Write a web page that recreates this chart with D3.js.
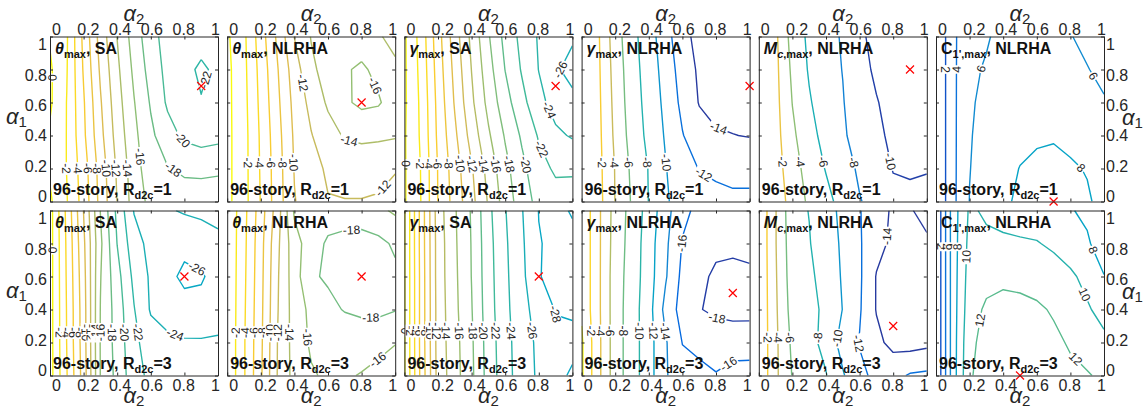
<!DOCTYPE html>
<html>
<head>
<meta charset="utf-8">
<script src="https://cdn.jsdelivr.net/npm/d3@7"></script>
<style>
  body { margin: 0; background: #fff; }
  svg { display: block; }
</style>
</head>
<body>
<svg id="chart" width="1146" height="408"></svg>
<script>
// grid of the parametric study: alpha2 along x, alpha1 along y
const alpha2Grid = [0, 0.1, 0.2, 0.3, 0.4, 0.5, 0.6, 0.7, 0.8, 0.9, 1];
const alpha1Grid = [0, 0.2, 0.4, 0.6, 0.8, 1];
const tickValues = [0, 0.2, 0.4, 0.6, 0.8, 1];

// response reduction (%) — rows are alpha1 = 0 ... 1, columns alpha2 = 0 ... 1
const thetaSA_R1 = [
  [0.3, -1.9, -4.8, -8.6, -12.05, -14.8, -16.6, -17.1, -17.2, -17.1, -17.0],
  [-0.3, -2.05, -5.05, -8.8, -12.3, -15.1, -17.2, -17.9, -18.3, -18.4, -18.3],
  [-0.3, -2.05, -5.6, -9.4, -12.8, -15.5, -17.6, -19.2, -20.4, -20.9, -20.6],
  [0.3, -2.05, -5.8, -9.8, -13.2, -15.9, -18.2, -20.3, -21.4, -21.9, -21.4],
  [0.3, -1.9, -6.2, -10.3, -13.6, -16.4, -18.8, -20.6, -21.5, -22.3, -21.6],
  [-0.2, -1.8, -6.5, -10.8, -14.05, -16.9, -19.3, -20.8, -21.2, -21.3, -21.2]
];
const thetaNL_R1 = [
  [0.5, -1.3, -4.1, -7.05, -9.9, -11.05, -11.9, -11.95, -11.95, -11.9, -11.75],
  [0.5, -1.3, -4.2, -7.1, -10.1, -11.3, -12.3, -12.5, -12.5, -12.3, -12.05],
  [0.5, -1.3, -4.3, -7.3, -10.3, -11.9, -13.2, -14.2, -14.5, -14.4, -14.2],
  [0.5, -1.4, -4.5, -7.6, -10.6, -12.6, -14.3, -15.7, -16.4, -16.2, -15.05],
  [0.5, -1.5, -4.7, -7.9, -11.05, -13.6, -14.8, -15.8, -16.3, -15.5, -14.6],
  [0.3, -1.6, -5.05, -8.4, -12.05, -14.1, -14.8, -15.2, -15.05, -14.3, -13.05]
];
const gammaSA_R1 = [
  [0.2, -2.05, -6.05, -8.8, -11.4, -14.2, -16.9, -19.05, -20.6, -21.2, -21.4],
  [0.2, -2.1, -6.1, -9.05, -11.8, -14.7, -17.4, -19.5, -21.3, -22.3, -22.2],
  [0.2, -2.3, -6.4, -9.6, -12.8, -15.7, -18.2, -20.3, -22.2, -23.6, -24.2],
  [0.3, -2.4, -6.6, -10.2, -13.6, -16.6, -19.2, -21.4, -23.4, -24.8, -25.6],
  [0.3, -2.6, -6.9, -10.6, -14.05, -17.2, -20.05, -22.2, -24.05, -25.8, -26.5],
  [0.3, -2.8, -7.2, -11.05, -14.5, -17.8, -20.6, -22.6, -24.2, -25.3, -25.8]
];
const gammaNL_R1 = [
  [-0.3, -1.3, -4.05, -6.2, -8.05, -9.7, -11.05, -11.5, -11.7, -11.8, -11.8],
  [-0.3, -1.4, -4.1, -6.4, -8.1, -9.9, -11.4, -12.05, -12.2, -12.3, -12.3],
  [-0.4, -1.5, -4.4, -6.8, -8.5, -10.2, -11.9, -13.2, -13.8, -13.95, -14.1],
  [-0.4, -1.6, -4.6, -7.05, -8.7, -10.5, -12.5, -14.1, -14.6, -14.8, -14.8],
  [-0.4, -1.7, -4.8, -7.2, -8.9, -10.8, -12.9, -14.3, -14.8, -15.05, -15.05],
  [-0.4, -1.8, -5.05, -7.4, -9.1, -11.2, -13.4, -14.6, -15.05, -15.2, -15.05]
];
const McNL_R1 = [
  [-0.2, -1.1, -2.6, -4.4, -5.5, -6.6, -7.9, -8.6, -9.4, -9.6, -9.5],
  [-0.2, -1.2, -3.05, -4.9, -6.1, -7.2, -8.3, -8.9, -10.1, -10.2, -10.1],
  [-0.2, -1.3, -3.6, -5.4, -6.6, -7.8, -8.6, -9.6, -10.4, -10.7, -10.8],
  [-0.2, -1.4, -4.05, -5.8, -7.1, -7.9, -9.1, -9.9, -10.6, -10.9, -10.9],
  [-0.2, -1.5, -4.4, -6.2, -7.3, -8.05, -9.4, -10.3, -10.9, -11.1, -11.05],
  [-0.2, -1.6, -4.8, -6.4, -7.3, -8.2, -9.7, -10.5, -10.9, -11.1, -11.05]
];
const C1NL_R1 = [
  [0.0, 3.5, 6.05, 7.05, 7.7, 8.3, 8.6, 8.6, 8.4, 8.2, 7.5],
  [0.0, 3.5, 5.95, 6.8, 7.4, 8.05, 8.3, 8.3, 8.2, 7.9, 7.3],
  [0.0, 3.5, 5.9, 6.5, 7.05, 7.5, 7.8, 7.9, 7.6, 7.1, 6.6],
  [0.0, 3.5, 5.85, 6.3, 6.7, 7.05, 7.2, 7.1, 6.9, 6.5, 6.1],
  [0.0, 3.5, 5.8, 6.1, 6.5, 6.8, 6.9, 6.7, 6.4, 6.05, 5.7],
  [0.0, 3.5, 5.7, 5.9, 6.3, 6.5, 6.6, 6.4, 6.05, 5.7, 5.4]
];
const thetaSA_R3 = [
  [0.8, -3.9, -8.9, -16.05, -18.6, -21.2, -22.5, -23.2, -23.4, -23.4, -23.3],
  [0.8, -4.05, -9.05, -16.1, -18.8, -21.5, -23.05, -23.7, -23.8, -23.8, -23.7],
  [0.8, -4.1, -9.1, -16.05, -18.9, -21.9, -24.2, -24.6, -25.3, -25.4, -25.05],
  [0.8, -4.2, -9.3, -15.9, -19.3, -22.5, -24.3, -25.5, -26.4, -26.2, -25.3],
  [0.8, -4.3, -9.6, -15.6, -20.05, -23.2, -24.6, -25.2, -25.5, -25.05, -24.4],
  [0.8, -4.5, -10.05, -16.05, -20.5, -24.1, -24.3, -24.2, -23.8, -23.6, -23.5]
];
const thetaNL_R3 = [
  [-0.2, -3.8, -7.7, -12.1, -14.7, -15.8, -16.3, -16.2, -15.9, -15.6, -15.4],
  [-0.2, -3.8, -7.6, -12.05, -14.8, -16.3, -16.8, -16.9, -16.8, -16.4, -16.05],
  [-0.2, -3.7, -7.5, -11.9, -14.9, -16.5, -17.6, -18.1, -18.4, -18.5, -18.1],
  [-0.2, -3.6, -7.4, -11.8, -15.05, -17.8, -18.2, -18.6, -18.8, -18.7, -18.4],
  [-0.2, -3.5, -7.3, -11.6, -15.2, -17.05, -18.3, -18.6, -18.7, -18.5, -17.7],
  [-0.2, -3.4, -7.05, -11.05, -16.3, -16.6, -17.05, -17.1, -17.05, -16.4, -15.7]
];
const gammaSA_R3 = [
  [0.2, -6.6, -12.7, -15.2, -17.6, -20.8, -23.2, -25.05, -26.3, -27.6, -28.2],
  [0.2, -6.7, -12.8, -15.3, -17.7, -20.9, -23.3, -25.1, -26.4, -27.5, -27.6],
  [0.2, -6.7, -12.8, -15.5, -17.9, -21.1, -23.5, -25.3, -26.9, -28.1, -28.2],
  [0.2, -6.7, -12.9, -15.6, -18.05, -21.2, -23.6, -25.5, -27.95, -28.3, -28.3],
  [0.2, -6.8, -12.9, -15.7, -18.1, -21.3, -23.7, -25.7, -27.9, -28.4, -28.3],
  [0.2, -6.8, -13.05, -15.8, -18.2, -21.5, -23.9, -25.9, -28.05, -28.3, -27.9]
];
const gammaNL_R3 = [
  [0.3, -3.5, -7.05, -9.05, -11.2, -13.8, -15.3, -15.7, -15.9, -15.3, -15.1],
  [0.3, -3.5, -7.05, -9.05, -11.2, -13.8, -16.05, -16.3, -16.8, -16.9, -17.05],
  [-0.3, -3.6, -7.05, -9.05, -11.25, -14.6, -16.8, -17.9, -18.4, -18.6, -18.5],
  [-0.3, -3.6, -7.05, -8.9, -11.1, -13.8, -16.5, -17.6, -18.3, -18.5, -18.4],
  [-0.3, -3.6, -6.9, -8.8, -11.05, -13.6, -16.1, -17.05, -17.6, -17.6, -17.4],
  [-0.3, -3.6, -6.8, -8.7, -10.8, -13.2, -15.6, -16.4, -16.9, -17.1, -17.2]
];
const McNL_R3 = [
  [-0.2, -3.6, -6.1, -6.8, -7.9, -9.8, -11.6, -12.4, -12.6, -11.8, -11.6],
  [-0.2, -3.6, -6.4, -7.4, -8.6, -10.8, -12.1, -13.5, -14.6, -14.8, -14.5],
  [-0.2, -3.7, -6.8, -7.3, -8.5, -10.05, -11.8, -14.1, -14.9, -15.05, -14.8],
  [-0.2, -3.8, -7.05, -7.6, -8.8, -10.2, -11.7, -14.1, -14.6, -14.8, -14.6],
  [-0.2, -3.9, -7.2, -7.9, -9.05, -10.3, -11.8, -13.4, -14.4, -14.6, -14.2],
  [-0.2, -3.9, -7.4, -8.05, -9.2, -10.5, -11.9, -13.1, -14.3, -14.1, -13.6]
];
const C1NL_R3 = [
  [0.0, 7.0, 11.8, 12.8, 13.2, 13.2, 13.05, 12.7, 12.4, 12.2, 11.5],
  [0.0, 7.0, 11.6, 12.6, 13.05, 13.05, 12.8, 12.4, 11.8, 10.9, 10.4],
  [0.0, 7.0, 11.2, 12.3, 12.6, 12.5, 12.3, 11.8, 11.05, 10.2, 9.4],
  [0.0, 7.0, 10.9, 11.4, 11.6, 11.5, 11.2, 10.8, 10.3, 9.5, 8.05],
  [0.0, 7.0, 10.6, 10.4, 10.3, 10.2, 10.1, 9.7, 9.1, 8.2, 7.2],
  [0.0, 7.0, 10.3, 9.7, 9.4, 9.2, 9.05, 8.6, 8.1, 7.7, 7.3]
];

// location of the best (alpha2, alpha1) pair in each panel
const optimumPoints = [
  [0.9, 0.7], [0.8, 0.6], [0.9, 0.7], [1.0, 0.7], [0.9, 0.8], [0.7, 0.0],
  [0.8, 0.6], [0.8, 0.6], [0.8, 0.6], [0.9, 0.5], [0.8, 0.3], [0.5, 0.0]
];

const storyLabels = ["96-story, R", "d2c", "=1", "=3"];

// panel set-up: contour levels, colour range and where contour labels sit
const panels = [
  { grid: thetaSA_R1, title: [["θ", "i"], ["max", "s"], [", SA"]], levels: d3.range(0, -23, -2), clim: [-42, 0], rd2c: 1,
    labels: [[0, 0, 0.75], [-2, 0.1, 0.2], [-4, 0.16, 0.2], [-6, 0.21, 0.2], [-8, 0.27, 0.2], [-10, 0.32, 0.2], [-12, 0.38, 0.2], [-14, 0.45, 0.2], [-16, 0.52, 0.27], [-18, 0.73, 0.19], [-20, 0.77, 0.36], [-22, 0.92, 0.74]] },
  { grid: thetaNL_R1, title: [["θ", "i"], ["max", "s"], [", NLRHA"]], levels: d3.range(0, -17, -2), clim: [-43, 0], rd2c: 1,
    labels: [[-2, 0.11, 0.235], [-4, 0.18, 0.235], [-6, 0.25, 0.235], [-8, 0.31, 0.235], [-10, 0.38, 0.235], [-12, 0.4, 0.71], [-14, 0.73, 0.385], [-16, 0.83, 0.68], [-12, 0.87, 0.13]] },
  { grid: gammaSA_R1, title: [["γ", "i"], ["max", "s"], [", SA"]], levels: d3.range(0, -27, -2), clim: [-45, 0], rd2c: 1,
    labels: [[0, 0, 0.23], [-2, 0.095, 0.23], [-4, 0.155, 0.23], [-6, 0.2, 0.23], [-8, 0.25, 0.23], [-10, 0.33, 0.23], [-12, 0.42, 0.23], [-14, 0.49, 0.23], [-16, 0.57, 0.23], [-18, 0.64, 0.23], [-20, 0.75, 0.23], [-22, 0.84, 0.33], [-24, 0.85, 0.55], [-26, 0.92, 0.8]] },
  { grid: gammaNL_R1, title: [["γ", "i"], ["max", "s"], [", NLRHA"]], levels: d3.range(-2, -15, -2), clim: [-14.5, 0], rd2c: 1,
    labels: [[-2, 0.12, 0.235], [-4, 0.19, 0.235], [-6, 0.27, 0.235], [-8, 0.37, 0.235], [-10, 0.49, 0.235], [-12, 0.73, 0.17], [-14, 0.81, 0.43]] },
  { grid: McNL_R1, title: [["M", "i"], ["c", "si"], [",max", "s"], [", NLRHA"]], levels: d3.range(-2, -11, -2), clim: [-10.5, 0], rd2c: 1,
    labels: [[-2, 0.13, 0.24], [-4, 0.24, 0.24], [-6, 0.38, 0.24], [-8, 0.575, 0.24], [-10, 0.77, 0.24]] },
  { grid: C1NL_R1, title: [["C"], ["1',max", "s"], [", NLRHA"]], levels: [2, 4, 6, 8], clim: [0, 22], rd2c: 1,
    labels: [[2, 0.054, 0.8], [4, 0.12, 0.8], [6, 0.28, 0.8], [6, 0.92, 0.75], [8, 0.86, 0.2]] },
  { grid: thetaSA_R3, title: [["θ", "i"], ["max", "s"], [", SA"]], levels: d3.range(0, -27, -2), clim: [-42, 0], rd2c: 3,
    labels: [[0, 0, 0.76], [-2, 0.05, 0.26], [-4, 0.1, 0.26], [-6, 0.14, 0.26], [-8, 0.18, 0.26], [-10, 0.21, 0.26], [-12, 0.24, 0.26], [-14, 0.27, 0.26], [-16, 0.3, 0.26], [-18, 0.37, 0.26], [-20, 0.44, 0.26], [-22, 0.51, 0.26], [-24, 0.73, 0.21], [-26, 0.87, 0.64]] },
  { grid: thetaNL_R3, title: [["θ", "i"], ["max", "s"], [", NLRHA"]], levels: d3.range(-2, -19, -2), clim: [-43, 0], rd2c: 3,
    labels: [[-2, 0.05, 0.26], [-4, 0.11, 0.26], [-6, 0.16, 0.26], [-8, 0.21, 0.26], [-10, 0.25, 0.26], [-12, 0.3, 0.26], [-14, 0.35, 0.26], [-16, 0.46, 0.23], [-18, 0.74, 0.88], [-18, 0.855, 0.32], [-16, 0.885, 0.11]] },
  { grid: gammaSA_R3, title: [["γ", "i"], ["max", "s"], [", SA"]], levels: d3.range(0, -29, -2), clim: [-45, 0], rd2c: 3,
    labels: [[0, 0.005, 0.27], [-2, 0.035, 0.27], [-4, 0.065, 0.27], [-6, 0.095, 0.27], [-8, 0.125, 0.27], [-10, 0.155, 0.27], [-12, 0.19, 0.27], [-14, 0.24, 0.27], [-16, 0.33, 0.27], [-18, 0.41, 0.27], [-20, 0.47, 0.27], [-22, 0.53, 0.27], [-24, 0.63, 0.27], [-26, 0.74, 0.27], [-28, 0.85, 0.36]] },
  { grid: gammaNL_R3, title: [["γ", "i"], ["max", "s"], [", NLRHA"]], levels: d3.range(0, -19, -2), clim: [-18.8, 0], rd2c: 3,
    labels: [[-2, 0.06, 0.27], [-4, 0.11, 0.27], [-6, 0.17, 0.27], [-8, 0.23, 0.27], [-10, 0.35, 0.27], [-12, 0.42, 0.27], [-14, 0.51, 0.27], [-16, 0.61, 0.8], [-18, 0.8, 0.32], [-16, 0.875, 0.07]] },
  { grid: McNL_R3, title: [["M", "i"], ["c", "si"], [",max", "s"], [", NLRHA"]], levels: d3.range(-2, -15, -2), clim: [-14.5, 0], rd2c: 3,
    labels: [[-2, 0.06, 0.23], [-4, 0.12, 0.23], [-6, 0.19, 0.23], [-8, 0.33, 0.23], [-10, 0.44, 0.23], [-12, 0.57, 0.19], [-14, 0.81, 0.84]] },
  { grid: C1NL_R3, title: [["C"], ["1',max", "s"], [", NLRHA"]], levels: [2, 4, 6, 8, 10, 12], clim: [0, 22], rd2c: 3,
    labels: [[2, 0.02, 0.78], [4, 0.04, 0.78], [6, 0.065, 0.78], [8, 0.12, 0.78], [10, 0.2, 0.72], [10, 0.86, 0.48], [12, 0.23, 0.34], [12, 0.86, 0.13], [8, 0.91, 0.75]] }
];

// MATLAB parula
const parula = d3.piecewise(d3.interpolateRgb, ["#352a87", "#0363e1", "#1485d4", "#06a7c6", "#38b99e", "#92bf73", "#d9ba56", "#fcce2e", "#f9fb0e"]);

const font = "'Liberation Sans', Arial, Helvetica, sans-serif";
const ink = "#262626";
const panelW = 168, panelH = 165;
const colLeft = d3.scaleLinear().domain([0, 5]).range([50, 936]);
const rowTop = [36.5, 210.5];

const svg = d3.select("#chart");
const nx = alpha2Grid.length, ny = alpha1Grid.length;
const a2OfIndex = d3.scaleLinear().domain(d3.range(nx)).range(alpha2Grid);
const a1OfIndex = d3.scaleLinear().domain(d3.range(ny)).range(alpha1Grid);

// turn d3's filled contour rings into open iso-lines (drop the parts that run along the frame)
function isolines(contour) {
  const out = [];
  const onEdge = ([u, v]) => u < 0.25 || u > nx - 0.25 || v < 0.25 || v > ny - 0.25;
  contour.coordinates.forEach(poly => poly.forEach(ring0 => {
    const ring = ring0.slice(0, -1);
    const k = ring.findIndex(onEdge);
    if (k < 0) { out.push(ring0); return; }
    const rot = ring.slice(k).concat(ring.slice(0, k), [ring[k]]);
    let cur = [];
    rot.forEach(pt => {
      if (onEdge(pt)) { if (cur.length > 1) out.push(cur); cur = []; }
      else cur.push(pt);
    });
  }));
  return out;
}

// append text made of pieces: "i" italic, "s" subscript
function richText(sel, parts, size, subSize) {
  let lowered = false;
  parts.forEach(([t, st = ""]) => {
    const sub = st.includes("s");
    const ts = sel.append("tspan").text(t)
      .attr("font-size", sub ? subSize : size)
      .attr("font-style", st.includes("i") ? "italic" : null);
    if (sub && !lowered) { ts.attr("dy", 4); lowered = true; }
    else if (!sub && lowered) { ts.attr("dy", -4); lowered = false; }
  });
}

panels.forEach((p, i) => {
  const row = Math.floor(i / 6), col = i % 6;
  const x0 = colLeft(col), y0 = rowTop[row];
  const x = d3.scaleLinear().domain([0, 1]).range([x0, x0 + panelW]);
  const y = d3.scaleLinear().domain([0, 1]).range([y0 + panelH, y0]);
  const color = d3.scaleSequential(parula).domain(p.clim).clamp(true);
  const g = svg.append("g");

  const clipId = `clip${i}`;
  g.append("clipPath").attr("id", clipId).append("rect")
    .attr("x", x0).attr("y", y0).attr("width", panelW).attr("height", panelH);

  const toPx = ([u, v]) => [x(a2OfIndex(u - 0.5)), y(a1OfIndex(v - 0.5))];
  const contours = d3.contours().size([nx, ny]).thresholds(p.levels)(p.grid.flat());
  const lines = [];
  contours.forEach(c => isolines(c).forEach(pts => lines.push({ level: c.value, pts: pts.map(toPx) })));

  const lineGen = d3.line();
  g.append("g").attr("clip-path", `url(#${clipId})`)
    .selectAll("path").data(lines).join("path")
    .attr("d", d => lineGen(d.pts))
    .attr("fill", "none")
    .attr("stroke", d => color(d.level))
    .attr("stroke-width", 1.4)
    .attr("stroke-linejoin", "round");

  // inline contour labels
  const lab = g.append("g").attr("font-family", font).attr("font-size", 12).attr("fill", ink);
  p.labels.forEach(([lev, ha2, ha1]) => {
    const hx = x(ha2), hy = y(ha1);
    let best = null;
    lines.filter(l => l.level === lev).forEach(l => {
      for (let k = 0; k < l.pts.length - 1; k++) {
        const [ax, ay] = l.pts[k], [bx, by] = l.pts[k + 1];
        const dx = bx - ax, dy = by - ay, len2 = dx * dx + dy * dy || 1;
        const t = Math.max(0, Math.min(1, ((hx - ax) * dx + (hy - ay) * dy) / len2));
        const px = ax + t * dx, py = ay + t * dy;
        const d2 = (px - hx) ** 2 + (py - hy) ** 2;
        if (!best || d2 < best.d2) best = { d2, px, py, ang: Math.atan2(dy, dx) * 180 / Math.PI };
      }
    });
    if (!best) return;
    let ang = best.ang;
    if (ang <= -90) ang += 180;
    if (ang > 90) ang -= 180;
    const lg = lab.append("g").attr("transform", `translate(${best.px},${best.py}) rotate(${ang})`);
    const bg = lg.append("rect").attr("fill", "#fff");
    const tx = lg.append("text").attr("text-anchor", "middle").attr("dy", "0.35em").text(`${lev}`);
    const w = tx.node().getComputedTextLength();
    bg.attr("x", -w / 2 - 1).attr("y", -5).attr("width", w + 2).attr("height", 10);
  });

  // optimum marker
  const [mx, my] = optimumPoints[i];
  g.append("path")
    .attr("transform", `translate(${x(mx)},${y(my)})`)
    .attr("d", "M-4,-4L4,4M-4,4L4,-4")
    .attr("stroke", "#ff0000").attr("stroke-width", 1.2).attr("fill", "none");

  // frame + inward ticks on all four sides
  const tickAxis = [
    [d3.axisTop(x), `translate(0,${y0})`],
    [d3.axisBottom(x), `translate(0,${y0 + panelH})`],
    [d3.axisLeft(y), `translate(${x0},0)`],
    [d3.axisRight(y), `translate(${x0 + panelW},0)`]
  ];
  tickAxis.forEach(([ax, tr]) => {
    g.append("g").attr("transform", tr).attr("color", ink)
      .call(ax.tickValues(tickValues).tickSize(-3).tickSizeOuter(0).tickFormat(""));
  });

  // tick labels
  const fmt = d3.format("~g");
  const xl = d3.scaleLinear().domain([0, 1]).range([x0 + 6, x0 + panelW - 3]);
  const yl = d3.scaleLinear().domain([0, 1]).range([y0 + panelH - 5, y0 + 8]);
  const labelAxis = (ax, tr, pad) => {
    const a = g.append("g").attr("transform", tr)
      .call(ax.tickValues(tickValues).tickSize(0).tickPadding(pad).tickFormat(fmt));
    a.select(".domain").remove();
    a.selectAll("text").attr("font-family", font).attr("font-size", 16).attr("fill", ink);
  };
  if (row === 0) labelAxis(d3.axisTop(xl), `translate(0,${y0})`, 1.5);
  if (row === 1) labelAxis(d3.axisBottom(xl), `translate(0,${y0 + panelH})`, 4);
  if (col === 0) labelAxis(d3.axisLeft(yl), `translate(${x0},0)`, 3);
  if (col === 5) labelAxis(d3.axisRight(yl), `translate(${x0 + panelW},0)`, 2);

  // alpha axis titles
  const alphaTitle = (tx, ty, subText, anchor) => {
    const t = svg.append("text").attr("x", tx).attr("y", ty).attr("font-family", font)
      .attr("fill", ink).attr("text-anchor", anchor);
    t.append("tspan").text("α").attr("font-size", 22).attr("font-style", "italic");
    t.append("tspan").text(subText).attr("font-size", 15).attr("dy", 3);
  };
  if (row === 0) alphaTitle(x0 + panelW / 2, 21, "2", "middle");
  if (row === 1) alphaTitle(x0 + panelW / 2, 403, "2", "middle");
  if (col === 0) alphaTitle(6, y0 + panelH / 2 + 5, "1", "start");
  if (col === 5) alphaTitle(1122, y0 + panelH / 2 + 6, "1", "start");

  // panel title and building tag
  const title = g.append("text").attr("x", x0 + 5).attr("y", y0 + 17)
    .attr("font-family", font).attr("font-weight", "bold").attr("fill", "#111");
  richText(title, p.title, 16, 11);
  const tag = g.append("text").attr("x", x0 + 3).attr("y", y0 + panelH - 7)
    .attr("font-family", font).attr("font-weight", "bold").attr("fill", "#111");
  richText(tag, [[storyLabels[0]], [storyLabels[1], "s"], [p.rd2c === 1 ? storyLabels[2] : storyLabels[3]]], 16, 11);
});
</script>
</body>
</html>
